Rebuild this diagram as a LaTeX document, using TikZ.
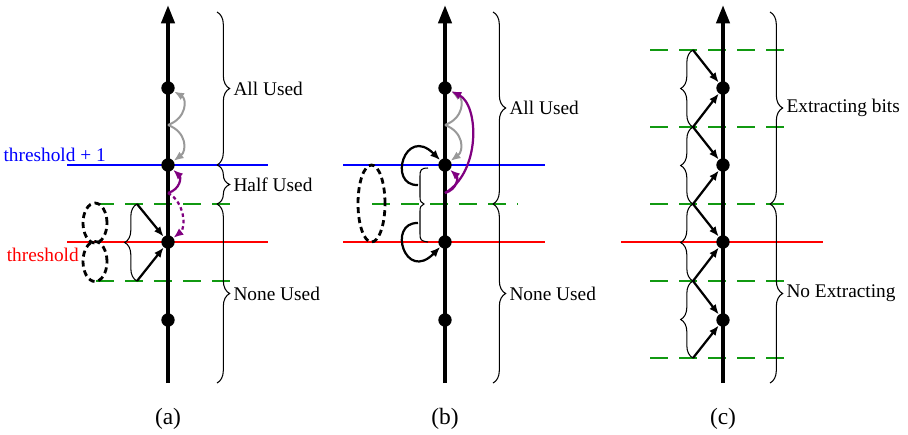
\documentclass[tikz,border=0pt]{standalone}
\usepackage{fontspec}
\setmainfont{Liberation Serif}
\usepackage{tikz}
\usetikzlibrary{arrows.meta,shapes.geometric,decorations.pathreplacing}
\usepackage{xcolor}
\definecolor{thBlue}{HTML}{0000FF}
\definecolor{thRed}{HTML}{FF0000}
\definecolor{thGreen}{HTML}{119911}
\definecolor{thPurple}{HTML}{800080}
\definecolor{thGray}{HTML}{999999}
\tikzset{
    % axis, levels and points
    axisline/.style={line width=3.4pt,-{Triangle[length=0.55cm,width=0.39cm]}},
    dot/.style={circle,fill=black,inner sep=0pt,minimum size=0.4cm},
    levelline/.style={line width=2.3pt},
    gridline/.style={thGreen,line width=1.3pt,dash pattern=on 0.55cm off 0.32cm},
    ring/.style={ellipse,draw,line width=2.4pt,dash pattern=on 0.18cm off 0.12cm,inner sep=0pt},
    % braces
    bigbrace/.style={decorate,decoration={brace,amplitude=0.38cm},line width=0.9pt},
    smallbrace/.style={decorate,decoration={brace,amplitude=0.37cm},line width=0.9pt},
    bracelabel/.style={anchor=west,xshift=0.48cm,inner sep=0pt},
    caption/.style={font=\fontsize{20}{24}\selectfont},
    % moves
    jump/.style={-{Latex[length=0.3cm,width=0.24cm]},line width=1.9pt},
    grayjump/.style={jump,thGray,line width=1.7pt},
    purplejump/.style={jump,thPurple,line width=1.9pt}
}

\begin{document}
\begin{tikzpicture}[x=0.03cm,y=-0.03cm,font=\fontsize{16.5}{19}\selectfont]
\useasboundingbox (0,0) rectangle (908,434);

% ---------------- (a) ----------------
\draw[gridline] (96,204) -- (240,204);
\draw[gridline] (96,281) -- (240,281);
\draw[levelline,thBlue] (67,165) -- (268,165);
\draw[levelline,thRed] (67,242) -- (268,242);
\node[thBlue,anchor=base east,inner sep=0pt] (aThrUp) at (106,161) {threshold + 1};
\node[thRed,anchor=base east,inner sep=0pt] (aThr) at (79,261) {threshold};

\coordinate (aBot) at (168,383);
\coordinate (aTop) at (168,5);
\draw[axisline] (aBot) -- (aTop);
\node[dot] (a1) at (168,88) {};
\node[dot] (a2) at (168,165) {};
\node[dot] (a3) at (168,242) {};
\node[dot] (a4) at (168,320) {};

\node[ring,minimum width=0.72cm,minimum height=1.2cm] (aRingUp) at (95,223) {};
\node[ring,minimum width=0.72cm,minimum height=1.2cm] (aRingDn) at (95,261.5) {};

\coordinate (aL1) at (137,204);
\coordinate (aL2) at (137,281);
\draw[smallbrace] (aL2) -- (aL1);
\draw[jump] (aL1) -- (a3);
\draw[jump] (aL2) -- (a3);

\coordinate (aG) at (168,125);
\draw[grayjump] (aG) .. controls (187,118) and (187,99) .. (a1);
\draw[grayjump] (aG) .. controls (187,132) and (187,151) .. (a2);
\coordinate (aP) at (168,193);
\draw[purplejump] (aP) .. controls (181,189) and (181,177) .. (a2);
\draw[purplejump,dash pattern=on 3pt off 2.5pt] (aP) .. controls (185,202) and (186,228) .. (a3);

\draw[bigbrace] (217,12) -- (217,165) node[bracelabel,midway] (aAll) {All Used};
\draw[bigbrace] (217,165) -- (217,204) node[bracelabel,midway] (aHalf) {Half Used};
\draw[bigbrace] (217,204) -- (217,383) node[bracelabel,midway] (aNone) {None Used};
\node[caption] (capA) at (168,419) {(a)};

% ---------------- (b) ----------------
\draw[gridline] (372,204) -- (518,204);
\draw[levelline,thBlue] (343,165) -- (545,165);
\draw[levelline,thRed] (343,242) -- (545,242);

\coordinate (bBot) at (445,383);
\coordinate (bTop) at (445,5);
\draw[axisline] (bBot) -- (bTop);
\node[dot] (b1) at (445,88) {};
\node[dot] (b2) at (445,165) {};
\node[dot] (b3) at (445,242) {};
\node[dot] (b4) at (445,320) {};

\node[ring,minimum width=0.81cm,minimum height=2.31cm] (bRing) at (371.5,203.5) {};

% odd little brace between the two levels
\draw[line width=0.9pt] (428,168) .. controls (421,168) and (420,170) .. (420,176) -- (420,197)
    .. controls (420,201) and (421,203) .. (424,204) .. controls (421,205) and (420,207) .. (420,211)
    -- (420,234) .. controls (420,240) and (421,241) .. (428,242);
\coordinate (bU) at (418,185);
\coordinate (bD) at (418,223);
\draw[jump] (bU) .. controls (387,186) and (405,125) .. (b2);
\draw[jump] (bD) .. controls (387,222) and (405,283) .. (b3);

\coordinate (bG) at (445,125);
\draw[grayjump] (bG) .. controls (464,118) and (464,99) .. (b1);
\draw[grayjump] (bG) .. controls (464,132) and (464,151) .. (b2);
\coordinate (bP) at (445,193);
\draw[purplejump] (bP) .. controls (458,189) and (458,177) .. (b2);
\draw[purplejump] (bP) .. controls (481,172) and (479,105) .. (b1);

\draw[bigbrace] (493,12) -- (493,204) node[bracelabel,midway] (bAll) {All Used};
\draw[bigbrace] (493,204) -- (493,383) node[bracelabel,midway] (bNone) {None Used};
\node[caption] (capB) at (445,419) {(b)};

% ---------------- (c) ----------------
\draw[gridline] (650,50) -- (795,50);
\draw[gridline] (650,127) -- (795,127);
\draw[gridline] (650,204) -- (795,204);
\draw[gridline] (650,281) -- (795,281);
\draw[gridline] (650,358) -- (795,358);
\draw[levelline,thRed] (621,242) -- (823,242);

\coordinate (cBot) at (723,383);
\coordinate (cTop) at (723,5);
\draw[axisline] (cBot) -- (cTop);
\node[dot] (c1) at (723,88) {};
\node[dot] (c2) at (723,165) {};
\node[dot] (c3) at (723,242) {};
\node[dot] (c4) at (723,320) {};

\coordinate (cG1) at (693,50);
\coordinate (cG2) at (693,127);
\coordinate (cG3) at (693,204);
\coordinate (cG4) at (693,281);
\coordinate (cG5) at (693,358);
\draw[smallbrace] (cG2) -- (cG1);
\draw[smallbrace] (cG3) -- (cG2);
\draw[smallbrace] (cG4) -- (cG3);
\draw[smallbrace] (cG5) -- (cG4);
\draw[jump] (cG1) -- (c1);
\draw[jump] (cG2) -- (c1);
\draw[jump] (cG2) -- (c2);
\draw[jump] (cG3) -- (c2);
\draw[jump] (cG3) -- (c3);
\draw[jump] (cG4) -- (c3);
\draw[jump] (cG4) -- (c4);
\draw[jump] (cG5) -- (c4);

\draw[bigbrace] (770,12) -- (770,204) node[bracelabel,midway] (cExt) {Extracting bits};
\draw[bigbrace] (770,204) -- (770,383) node[bracelabel,midway] (cNoExt) {No Extracting};
\node[caption] (capC) at (723,419) {(c)};

\end{tikzpicture}
\end{document}
